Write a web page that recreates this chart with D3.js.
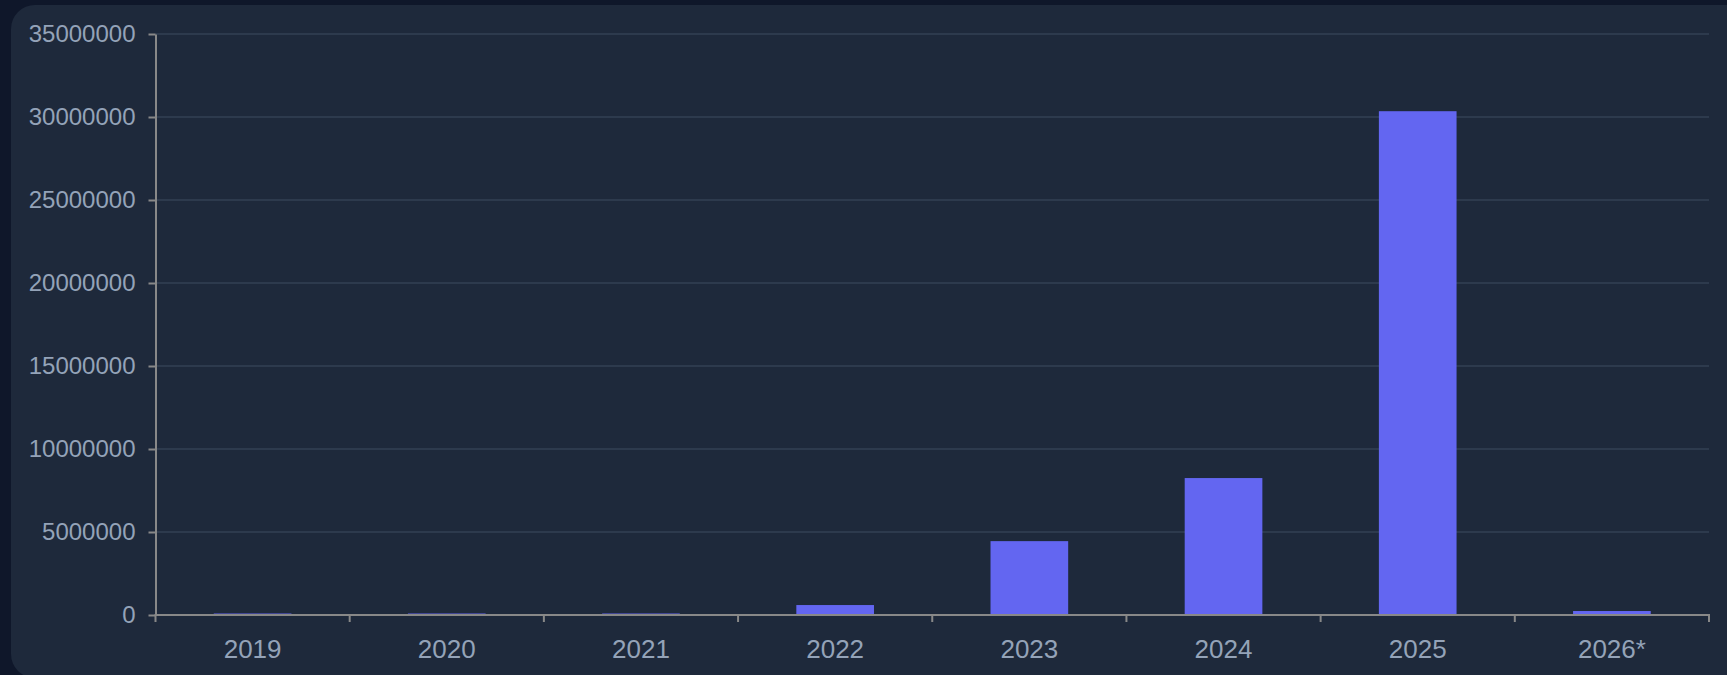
<!DOCTYPE html>
<html>
<head>
<meta charset="utf-8">
<script src="https://cdn.jsdelivr.net/npm/d3@7"></script>
<style>
  html, body { margin: 0; padding: 0; background: #0f172a; overflow: hidden; }
  svg { display: block; }
  text { font-family: "Liberation Sans", Arial, Helvetica, sans-serif; }
</style>
</head>
<body>
<svg id="chart" width="1727" height="675"></svg>
<script>
// 数据
const years = ['2019', '2020', '2021', '2022', '2023', '2024', '2025', '2026*']
const counts = [90000, 90000, 90000, 600000, 4450000, 8250000, 30350000, 240000]
const yTicks = [0, 5000000, 10000000, 15000000, 20000000, 25000000, 30000000, 35000000]

const W = 1727, H = 675
const margin = { left: 155.5, right: 18, top: 34, bottom: 60 }
const x0 = margin.left, x1 = 1709, y0 = 615, y1 = margin.top

const svg = d3.select('#chart')

// 卡片背景
svg.append('rect')
  .attr('x', 11).attr('y', 5)
  .attr('width', 1740).attr('height', 673)
  .attr('rx', 24)
  .attr('fill', '#1e293b')

const x = d3.scaleBand()
  .domain(years)
  .range([x0, x1])
  .padding(0)

const y = d3.scaleLinear()
  .domain([0, 35000000])
  .range([y0, y1])

// 网格线
svg.append('g').selectAll('line').data(yTicks.filter(d => d > 0)).join('line')
  .attr('x1', x0).attr('x2', x1)
  .attr('y1', d => y(d)).attr('y2', d => y(d))
  .attr('stroke', '#334155')
  .attr('stroke-width', 1.5)

// 柱子
const bw = x.bandwidth()
svg.append('g').selectAll('rect').data(years).join('rect')
  .attr('x', d => x(d) + bw * 0.3)
  .attr('width', bw * 0.4)
  .attr('y', (d, i) => y(counts[i]))
  .attr('height', (d, i) => y0 - y(counts[i]))
  .attr('fill', '#6366f1')

// y轴
const yAxis = svg.append('g')
  .attr('transform', `translate(${x0},0)`)
  .call(d3.axisLeft(y).tickValues(yTicks).tickFormat(d3.format('d')).tickSize(7).tickPadding(13).tickSizeOuter(0))
yAxis.select('.domain').attr('stroke', '#888').attr('stroke-width', 2)
yAxis.selectAll('.tick line').attr('stroke', '#888').attr('stroke-width', 2)
yAxis.selectAll('.tick text')
  .attr('fill', '#94a3b8')
  .style('font-size', '24px')

// x轴
const xg = svg.append('g')
xg.append('line')
  .attr('x1', x0 - 1).attr('x2', x1 + 1)
  .attr('y1', y0).attr('y2', y0)
  .attr('stroke', '#888').attr('stroke-width', 2)

const edges = years.map(d => x(d)).concat([x1])
xg.selectAll('line.tk').data(edges).join('line')
  .attr('class', 'tk')
  .attr('x1', d => d).attr('x2', d => d)
  .attr('y1', y0).attr('y2', y0 + 7)
  .attr('stroke', '#888').attr('stroke-width', 2)

xg.selectAll('text').data(years).join('text')
  .attr('x', d => x(d) + bw / 2)
  .attr('y', 658)
  .attr('text-anchor', 'middle')
  .attr('fill', '#94a3b8')
  .style('font-size', '26px')
  .text(d => d)
</script>
</body>
</html>
